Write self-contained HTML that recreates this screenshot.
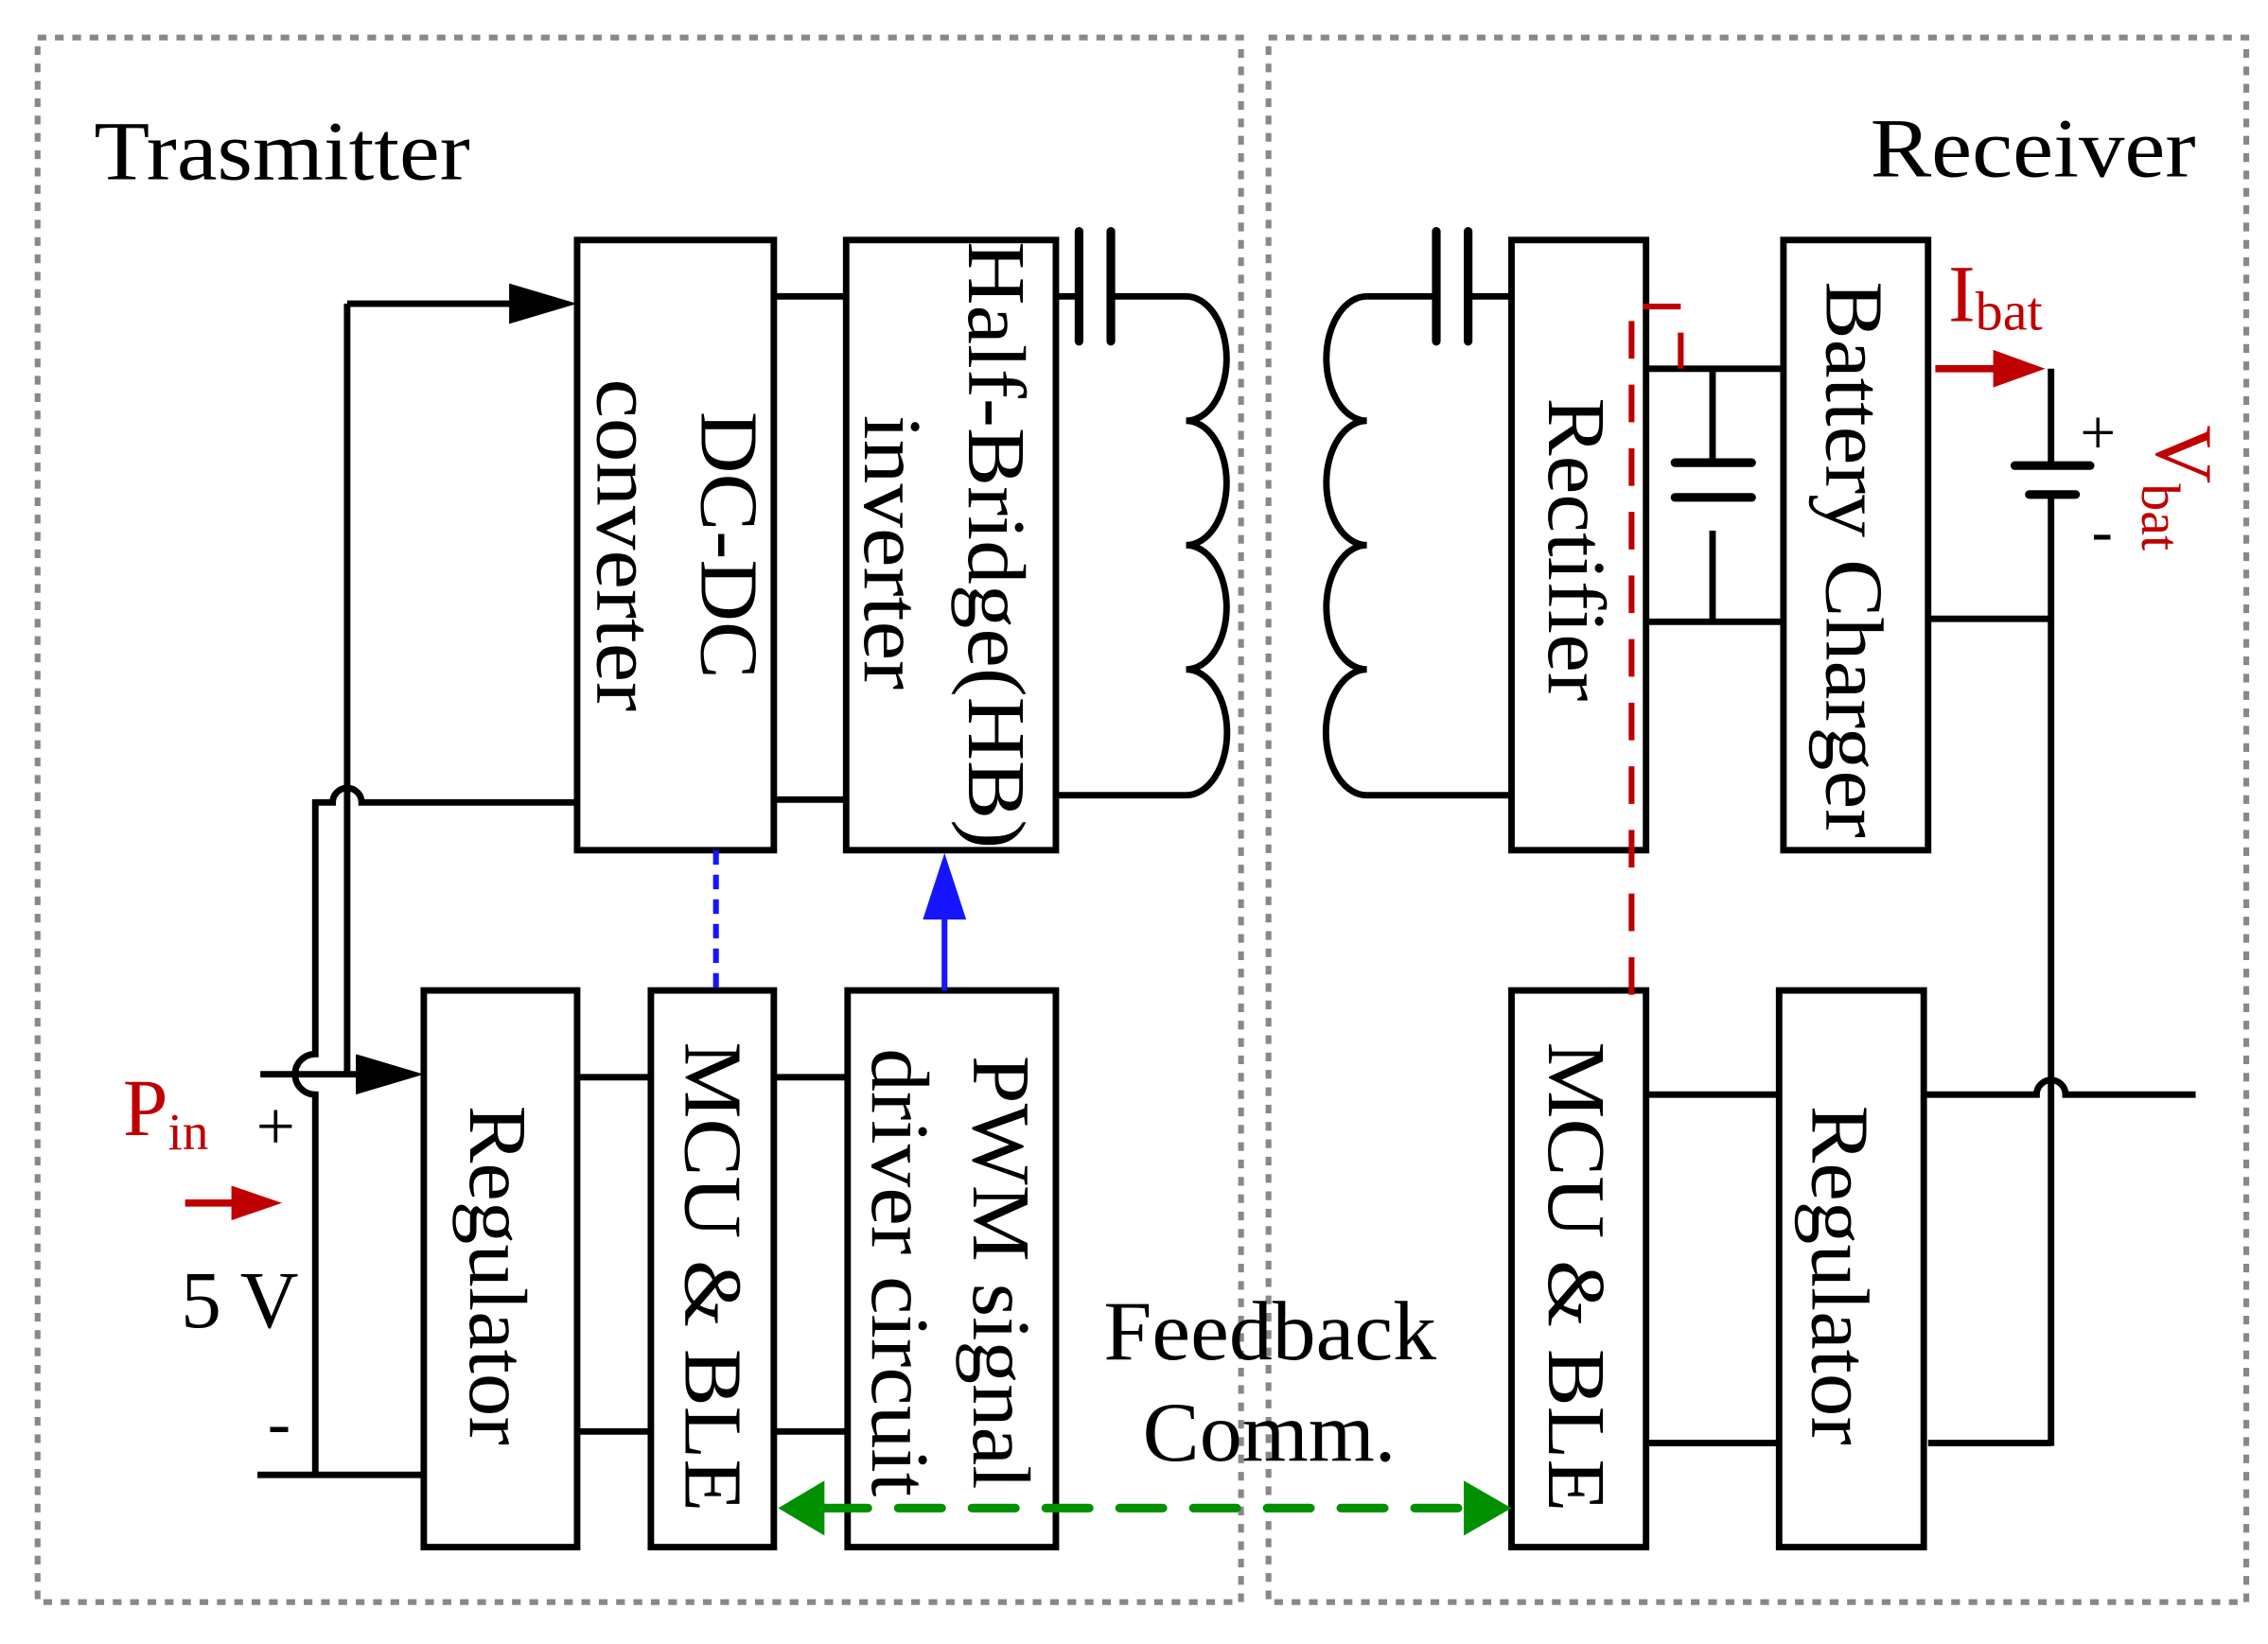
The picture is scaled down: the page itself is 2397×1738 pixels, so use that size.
<!DOCTYPE html>
<html><head><style>html,body{margin:0;padding:0;background:#fff}svg{display:block}</style></head>
<body>
<svg width="2397" height="1738" viewBox="0 0 1568 1137" preserveAspectRatio="none" xmlns="http://www.w3.org/2000/svg" font-family="Liberation Serif, serif">
<g fill="none" stroke="#888" stroke-width="4" stroke-dasharray="6 6">
<rect x="26" y="26" width="832" height="1082"/>
<rect x="877" y="26" width="676" height="1082"/>
</g>
<g fill="none" stroke="#000" stroke-width="4.5" stroke-linejoin="miter">
<rect x="399" y="166" width="136" height="422"/>
<rect x="585" y="166" width="145" height="422"/>
<rect x="293" y="685" width="106" height="385"/>
<rect x="450" y="685" width="85" height="385"/>
<rect x="586" y="685" width="144" height="385"/>
<rect x="1045" y="166" width="93" height="422"/>
<rect x="1233" y="166" width="100" height="422"/>
<rect x="1045" y="685" width="93" height="385"/>
<rect x="1230" y="685" width="100" height="385"/>
<path d="M535 205H585M535 553H585"/>
<path d="M730 205H745M768 205H820M730 550H820"/>
<path d="M820 205A28 43 0 0 1 820 291A28 43 0 0 1 820 377A28 43 0 0 1 820 463A28 43 0 0 1 820 550"/>
<path d="M240 210H360M240 210V743"/>
<path d="M218 1020V757A14 14 0 0 1 218 729V555H230A10 10 0 0 1 250 555H399"/>
<path d="M180 743H255"/>
<path d="M178 1020H293"/>
<path d="M399 745H450M535 745H586M399 990H450M535 990H586"/>
<path d="M1045 205H1015M993 205H945M1045 550H945"/>
<path d="M945 205A28 43 0 0 0 945 291A28 43 0 0 0 945 377A28 43 0 0 0 945 463A28 43 0 0 0 945 550"/>
<path d="M1138 255H1233M1138 430H1233M1184 255V319M1184 367V430"/>
<path d="M1418 255V322M1418 342V1000M1333 428H1418M1333 998H1418"/>
<path d="M1138 757H1230M1138 998H1230"/>
<path d="M1330 757H1408A10 10 0 0 1 1428 757H1518"/>
</g>
<g stroke="#000" stroke-width="6" stroke-linecap="round">
<path d="M746 160V236M768 160V236M993 160V236M1015 160V236"/>
<path d="M1158 320H1211M1158 344H1211"/>
<path d="M1393 322H1445M1403 342H1435"/>
</g>
<g fill="#000">
<path d="M399 210L352 196V224Z"/>
<path d="M293 743L246 729V757Z"/>
</g>
<path d="M495 588V685" stroke="#1515ff" stroke-width="4" stroke-dasharray="10 7"/>
<path d="M653 685V630" stroke="#1515ff" stroke-width="4"/>
<path d="M653 590L638 636H668Z" fill="#1515ff"/>
<path d="M1128 688V212H1162V255" fill="none" stroke="#c00000" stroke-width="4" stroke-dasharray="26 18"/>
<path d="M1338 255H1385" stroke="#c00000" stroke-width="5"/>
<path d="M1414 255L1378 242V268Z" fill="#c00000"/>
<path d="M128 832H165" stroke="#c00000" stroke-width="5"/>
<path d="M195 832L160 820V844Z" fill="#c00000"/>
<path d="M570 1043H1010" stroke="#009000" stroke-width="6" stroke-dasharray="30 21" stroke-linecap="round"/>
<path d="M538 1043L570 1024V1062Z M1045 1043L1012 1024V1062Z" fill="#009000"/>
<g font-size="58" fill="#000">
<text x="65" y="124" textLength="260" lengthAdjust="spacingAndGlyphs">Trasmitter</text>
<text x="1293" y="122" textLength="225" lengthAdjust="spacingAndGlyphs">Receiver</text>
<text x="763" y="940" textLength="230" lengthAdjust="spacingAndGlyphs">Feedback</text>
<text x="790" y="1010" textLength="175" lengthAdjust="spacingAndGlyphs">Comm.</text>
</g>
<g font-size="57" fill="#000" text-anchor="middle">
<text transform="translate(485,377) rotate(90)" textLength="185" lengthAdjust="spacingAndGlyphs">DC-DC</text>
<text transform="translate(413,377) rotate(90)" textLength="230" lengthAdjust="spacingAndGlyphs">converter</text>
<text transform="translate(670,377) rotate(90)" textLength="420" lengthAdjust="spacingAndGlyphs">Half-Bridge(HB)</text>
<text transform="translate(598,382) rotate(90)" textLength="190" lengthAdjust="spacingAndGlyphs">inverter</text>
<text transform="translate(1071,380) rotate(90)" textLength="210" lengthAdjust="spacingAndGlyphs">Rectifier</text>
<text transform="translate(1263,387) rotate(90)" textLength="385" lengthAdjust="spacingAndGlyphs">Battery Charger</text>
<text transform="translate(325,882) rotate(90)" textLength="235" lengthAdjust="spacingAndGlyphs">Regulator</text>
<text transform="translate(474,883) rotate(90)" textLength="325" lengthAdjust="spacingAndGlyphs">MCU &amp; BLE</text>
<text transform="translate(673,880) rotate(90)" textLength="300" lengthAdjust="spacingAndGlyphs">PWM signal</text>
<text transform="translate(603,880) rotate(90)" textLength="310" lengthAdjust="spacingAndGlyphs">driver circuit</text>
<text transform="translate(1071,883) rotate(90)" textLength="325" lengthAdjust="spacingAndGlyphs">MCU &amp; BLE</text>
<text transform="translate(1253,882) rotate(90)" textLength="235" lengthAdjust="spacingAndGlyphs">Regulator</text>
</g>
<g font-size="48" fill="#000">
<text x="177" y="795">+</text>
<text x="125" y="918" font-size="56">5 V</text>
<text x="185" y="1000">-</text>
<text x="1438" y="314" font-size="44">+</text>
<text x="1446" y="382" font-size="44">-</text>
</g>
<g fill="#c00000">
<text x="85" y="785" font-size="56">P<tspan font-size="36" dy="10">in</tspan></text>
<text x="1347" y="222" font-size="56">I<tspan font-size="38" dy="6">bat</tspan></text>
<text transform="translate(1491,294) rotate(90)" font-size="56">V<tspan font-size="38" dy="10">bat</tspan></text>
</g>
</svg>
</body></html>
